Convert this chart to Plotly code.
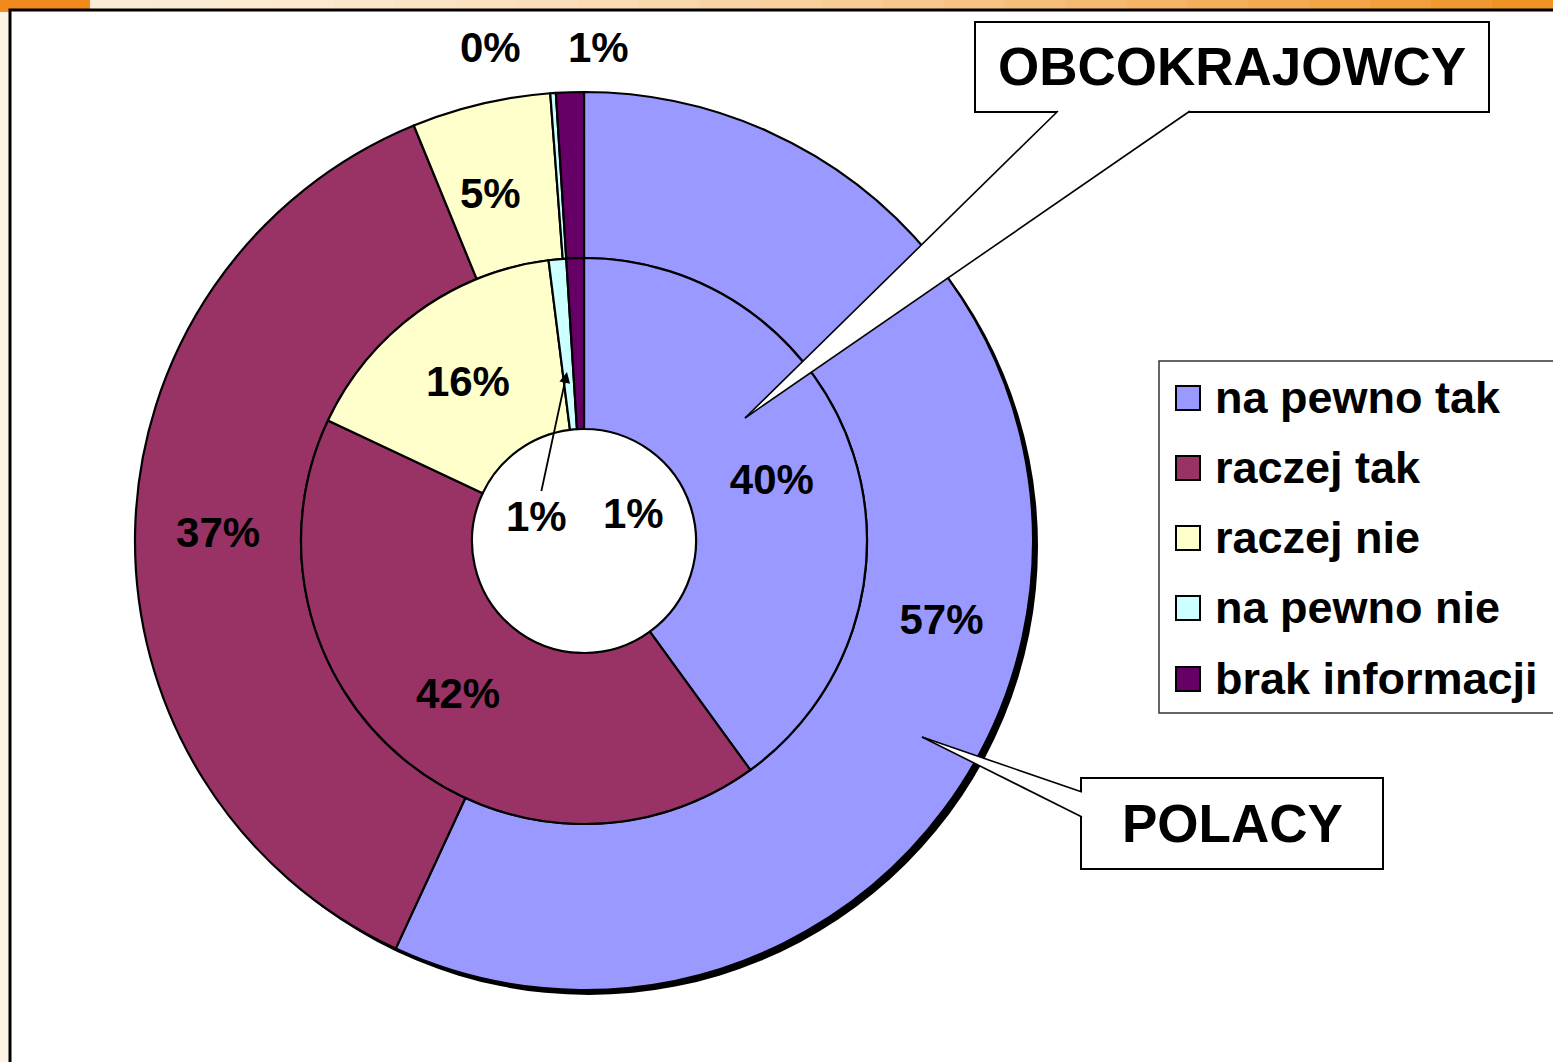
import plotly.graph_objects as go

# ---------------- data ----------------
categories = ["na pewno tak", "raczej tak", "raczej nie", "na pewno nie", "brak informacji"]
colors = ["#9999FF", "#993366", "#FFFFCC", "#CCFFFF", "#660066"]
polacy_values = [57, 37, 5, 0.2, 1]          # outer ring (POLACY)
obcokrajowcy_values = [40, 42, 16, 1, 1]     # inner ring (OBCOKRAJOWCY)
series_names = ["POLACY", "OBCOKRAJOWCY"]

W, H = 1553, 1062
FONT = "Liberation Sans, Arial, sans-serif"


def px(x):
    return x / W


def py(y):
    return 1 - y / H


# geometry (window pixels)
CX, CY = 584, 541
R_OUT, R_MID, R_HOLE = 449, 283, 112

fig = go.Figure()

fig.add_trace(go.Pie(
    name=series_names[0],
    labels=categories, values=polacy_values,
    marker=dict(colors=colors, line=dict(color="black", width=2.2)),
    sort=False, direction="clockwise", rotation=0,
    hole=R_MID / R_OUT,
    domain=dict(x=[px(CX - R_OUT), px(CX + R_OUT)], y=[py(CY + R_OUT), py(CY - R_OUT)]),
    texttemplate="%{value:.0f}%",
    textposition=["inside", "inside", "none", "none", "none"],
    insidetextorientation="horizontal",
    textfont=dict(family=FONT, size=42, color="black", weight="bold"),
    showlegend=False, hoverinfo="label+value",
))

fig.add_trace(go.Pie(
    name=series_names[1],
    labels=categories, values=obcokrajowcy_values,
    marker=dict(colors=colors, line=dict(color="black", width=2.2)),
    sort=False, direction="clockwise", rotation=0,
    hole=R_HOLE / R_MID,
    domain=dict(x=[px(CX - R_MID), px(CX + R_MID)], y=[py(CY + R_MID), py(CY - R_MID)]),
    texttemplate="%{value:.0f}%",
    textposition=["inside", "inside", "inside", "none", "none"],
    insidetextorientation="horizontal",
    textfont=dict(family=FONT, size=42, color="black", weight="bold"),
    showlegend=False, hoverinfo="label+value",
))

shapes = []
annotations = []

# ---- background: top orange strip (gradient approximation) ----
grad_start = (252, 236, 214)
grad_end = (240, 144, 31)
n_seg = 24
x_start = 90
for i in range(n_seg):
    t = (i + 0.5) / n_seg
    t2 = t ** 1.6
    c = tuple(int(round(a + (b - a) * t2)) for a, b in zip(grad_start, grad_end))
    xa = x_start + (W - x_start) * i / n_seg
    xb = x_start + (W - x_start) * (i + 1) / n_seg + 1
    shapes.append(dict(type="rect", xref="paper", yref="paper", layer="below",
                       x0=px(xa), x1=px(min(xb, W)), y0=py(9), y1=1,
                       fillcolor="rgb(%d,%d,%d)" % c, line=dict(width=0)))
shapes.append(dict(type="rect", xref="paper", yref="paper", layer="below",
                   x0=0, x1=px(90), y0=py(12), y1=1, fillcolor="#F18A1D", line=dict(width=0)))
# white chart area with black frame
shapes.append(dict(type="rect", xref="paper", yref="paper", layer="below",
                   x0=px(10), x1=px(1600), y0=py(1100), y1=py(10),
                   fillcolor="white", line=dict(color="black", width=3)))
# drop shadow of outer ring, then white hole on top of it
shapes.append(dict(type="circle", xref="paper", yref="paper", layer="below",
                   x0=px(CX - R_OUT + 5), x1=px(CX + R_OUT + 5),
                   y0=py(CY + R_OUT + 5), y1=py(CY - R_OUT + 5),
                   fillcolor="black", line=dict(width=0)))
shapes.append(dict(type="circle", xref="paper", yref="paper", layer="below",
                   x0=px(CX - R_HOLE), x1=px(CX + R_HOLE),
                   y0=py(CY + R_HOLE), y1=py(CY - R_HOLE),
                   fillcolor="white", line=dict(width=0)))

# ---- small-slice labels ----
lab_font = dict(family=FONT, size=42, color="black", weight="bold")


def label(x, y, text, **kw):
    d = dict(xref="paper", yref="paper", x=px(x), y=py(y), text=text,
             xanchor="center", yanchor="middle", showarrow=False, font=lab_font)
    d.update(kw)
    annotations.append(d)


label(490, 193, f"{round(polacy_values[2])}%")
label(490, 47, f"{round(polacy_values[3])}%")
label(598, 47, f"{round(polacy_values[4])}%")
label(567, 372, f"{round(obcokrajowcy_values[3])}%", showarrow=True, ax=-31, ay=144,
      arrowhead=2, arrowsize=1.2, arrowwidth=1.8, arrowcolor="black")
label(633, 513, f"{round(obcokrajowcy_values[4])}%")

# ---- callouts ----
call_font = dict(family=FONT, size=53, color="black", weight="bold")


def callout(box, base, tip, text):
    x0, y0, x1, y1 = box
    shapes.append(dict(type="rect", xref="paper", yref="paper", layer="above",
                       x0=px(x0), x1=px(x1), y0=py(y1), y1=py(y0),
                       fillcolor="white", line=dict(color="black", width=2)))
    (bx0, by0), (bx1, by1) = base
    tx, ty = tip
    path = f"M{px(bx0)},{py(by0)} L{px(bx1)},{py(by1)} L{px(tx)},{py(ty)} Z"
    shapes.append(dict(type="path", xref="paper", yref="paper", layer="above",
                       path=path, fillcolor="white", line=dict(width=0)))
    for (bx, by) in base:
        shapes.append(dict(type="line", xref="paper", yref="paper", layer="above",
                           x0=px(bx), y0=py(by), x1=px(tx), y1=py(ty),
                           line=dict(color="black", width=1.6)))
    annotations.append(dict(xref="paper", yref="paper", x=px((x0 + x1) / 2), y=py((y0 + y1) / 2),
                            xanchor="center", yanchor="middle",
                            text=text, showarrow=False, font=call_font))


callout((975, 22, 1489, 112), ((1058, 111), (1190, 111)), (745, 418), series_names[1])
callout((1081, 778, 1383, 869), ((1082, 792), (1082, 817)), (922, 737), series_names[0])

# ---- legend (manual) ----
shapes.append(dict(type="rect", xref="paper", yref="paper", layer="above",
                   x0=px(1159), x1=px(1600), y0=py(713), y1=py(361),
                   fillcolor="white", line=dict(color="#333333", width=1.5)))
leg_font = dict(family=FONT, size=45, color="black", weight="bold")
row_y = [398, 468, 538, 608, 679]
for cat, col, yy in zip(categories, colors, row_y):
    shapes.append(dict(type="rect", xref="paper", yref="paper", layer="above",
                       x0=px(1176), x1=px(1200), y0=py(yy + 12), y1=py(yy - 12),
                       fillcolor=col, line=dict(color="black", width=2)))
    annotations.append(dict(xref="paper", yref="paper", x=px(1213), y=py(yy - 1),
                            xanchor="left", yanchor="middle", text=cat,
                            showarrow=False, font=leg_font))

fig.update_layout(
    width=W, height=H,
    margin=dict(l=0, r=0, t=0, b=0),
    paper_bgcolor="#FDF3E4",
    plot_bgcolor="white",
    shapes=shapes,
    annotations=annotations,
    showlegend=False,
)

fig.write_html(
    "out.html",
    config={"displayModeBar": False},
    post_script="document.body.style.margin='0';document.body.style.overflow='hidden';",
)
